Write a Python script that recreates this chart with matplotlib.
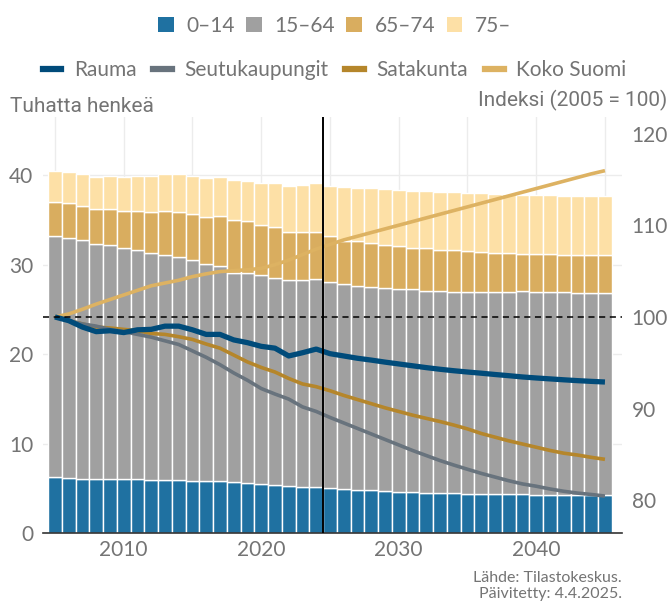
import matplotlib
matplotlib.use("Agg")
import matplotlib.pyplot as plt
import numpy as np
from matplotlib.patches import Patch
from matplotlib.lines import Line2D

years = list(range(2005, 2046))

age_0_14 = [6.26, 6.15, 6.03, 6.03, 6.03, 6.03, 6.03, 5.92, 5.92, 5.92,
            5.81, 5.81, 5.81, 5.70, 5.59, 5.47, 5.36, 5.25, 5.14, 5.10,
            5.03, 4.92, 4.80, 4.80, 4.69, 4.58, 4.58, 4.47, 4.47, 4.47,
            4.40, 4.36, 4.36, 4.36, 4.36, 4.30, 4.25, 4.25, 4.25, 4.25, 4.25]
age_15_64 = [26.92, 26.81, 26.71, 26.26, 26.15, 25.81, 25.59, 25.36, 25.14, 24.92,
             24.69, 24.25, 24.02, 23.35, 23.46, 23.36, 23.13, 23.02, 23.13, 23.28,
             23.01, 22.90, 22.83, 22.65, 22.68, 22.68, 22.68, 22.57, 22.57, 22.49,
             22.56, 22.60, 22.60, 22.60, 22.68, 22.66, 22.71, 22.71, 22.60, 22.60, 22.60]
age_65_74 = [3.80, 3.91, 3.80, 3.91, 4.02, 4.14, 4.36, 4.59, 4.92, 5.03,
             5.14, 5.25, 5.59, 5.92, 5.81, 5.58, 5.70, 5.36, 5.36, 5.25,
             5.14, 4.81, 5.00, 4.95, 4.81, 4.81, 4.58, 4.80, 4.58, 4.66,
             4.55, 4.44, 4.32, 4.32, 4.13, 4.21, 4.21, 4.10, 4.21, 4.21, 4.21]
age_75 = [3.47, 3.47, 3.56, 3.54, 3.69, 3.76, 3.91, 4.02, 4.12, 4.23,
          4.25, 4.32, 4.32, 4.47, 4.47, 4.66, 4.88, 5.14, 5.25, 5.44,
          5.59, 6.03, 5.92, 6.15, 6.26, 6.25, 6.37, 6.37, 6.48, 6.48,
          6.48, 6.59, 6.60, 6.60, 6.60, 6.60, 6.60, 6.59, 6.59, 6.59, 6.59]

rauma = [100.0, 99.6, 98.9, 98.4, 98.5, 98.3, 98.6, 98.65, 99.0, 99.0,
         98.6, 98.1, 98.1, 97.5, 97.2, 96.8, 96.6, 95.75, 96.1, 96.5,
         96.0, 95.75, 95.5, 95.3, 95.08, 94.88, 94.68, 94.48, 94.3, 94.14,
         94.0, 93.87, 93.73, 93.6, 93.46, 93.35, 93.25, 93.15, 93.06, 92.98, 92.91]
seutukaupungit = [100.0, 99.6, 99.24, 99.0, 98.65, 98.4, 98.1, 97.8, 97.4, 97.0,
                  96.3, 95.6, 94.8, 93.9, 93.1, 92.2, 91.6, 91.05, 90.2, 89.7,
                  89.05, 88.45, 87.85, 87.25, 86.65, 86.05, 85.45, 84.9, 84.35, 83.86,
                  83.4, 82.95, 82.55, 82.15, 81.8, 81.55, 81.25, 81.0, 80.8, 80.65, 80.48]
satakunta = [100.0, 99.6, 99.24, 98.9, 98.8, 98.65, 98.5, 98.2, 98.1, 97.85,
             97.55, 97.05, 96.6, 95.85, 95.1, 94.5, 94.0, 93.3, 92.7, 92.4,
             91.96, 91.45, 91.0, 90.55, 90.1, 89.7, 89.3, 88.95, 88.6, 88.22,
             87.8, 87.3, 86.9, 86.5, 86.15, 85.8, 85.45, 85.15, 84.95, 84.7, 84.48]
koko_suomi = [100.0, 100.33, 100.84, 101.4, 101.9, 102.4, 102.9, 103.4, 103.7, 104.0,
              104.4, 104.7, 104.95, 105.05, 105.15, 105.3, 105.7, 106.2, 106.8, 107.4,
              107.9, 108.4, 108.8, 109.2, 109.6, 110.0, 110.4, 110.8, 111.2, 111.6,
              112.0, 112.4, 112.8, 113.2, 113.6, 114.0, 114.4, 114.8, 115.2, 115.6, 115.95]

bar_labels = ["0\u201314", "15\u201364", "65\u201374", "75\u2013"]
bar_colors = ["#1F71A1", "#A0A0A0", "#D9AD5F", "#FDE0A6"]
line_labels = ["Rauma", "Seutukaupungit", "Satakunta", "Koko Suomi"]
line_colors = ["#004B7A", "#68737D", "#B5862B", "#DDB262"]
line_widths = [3.8, 2.6, 2.6, 2.6]

TXT = "#747474"
FONT = "Lato"

fig = plt.figure(figsize=(6.69, 6.03), dpi=100)
ax = fig.add_axes([43/669, 1-533/603, 579/669, 416/603])
ax2 = ax.twinx()

x = np.array(years)
bottom = np.zeros(len(years))
for vals, col in zip([age_0_14, age_15_64, age_65_74, age_75], bar_colors):
    ax.bar(x, vals, width=1.0, bottom=bottom, color=col, edgecolor="white",
           linewidth=1.0, zorder=2)
    bottom = bottom + np.array(vals)

for vals, col, lw in zip([rauma, seutukaupungit, satakunta, koko_suomi][::-1],
                         line_colors[::-1], line_widths[::-1]):
    ax2.plot(x, vals, color=col, lw=lw, solid_capstyle="butt", zorder=3)

ax2.axhline(100, color="black", lw=1.1, ls=(0, (4, 3)), zorder=4)
ax2.axvline(2024.5, color="black", lw=1.4, zorder=5)

ax.set_xlim(2004.13, 2046.24)
ax.set_ylim(0, 46.5)
ax2.set_ylim(76.45, 121.8)

ax.set_yticks([0, 10, 20, 30, 40])
ax2.set_yticks([80, 90, 100, 110, 120])
ax.set_xticks([2010, 2020, 2030, 2040])
ax.set_xticks(list(range(2005, 2046, 5)), minor=True)

ax.grid(True, which="both", axis="x", color="#ececec", lw=1.0, zorder=0)
ax.grid(True, which="major", axis="y", color="#ececec", lw=1.0, zorder=0)
ax.set_axisbelow(True)

for a in (ax, ax2):
    for s in a.spines.values():
        s.set_visible(False)
ax.spines["bottom"].set_visible(True)
ax.spines["bottom"].set_color("#333333")
ax.spines["bottom"].set_linewidth(1.2)

ax.tick_params(axis="x", which="both", length=0, pad=5, labelsize=15, labelcolor=TXT)
ax.tick_params(axis="y", length=0, pad=7, labelsize=15, labelcolor=TXT)
ax2.tick_params(axis="y", length=0, pad=7, labelsize=15, labelcolor=TXT)
for lab in ax.get_xticklabels() + ax.get_yticklabels() + ax2.get_yticklabels():
    lab.set_fontfamily(FONT)

fig.text(10/669, 1-107/603, "Tuhatta henkeä", fontsize=15, color=TXT,
         family="Roboto", ha="left", va="center")
fig.text(667/669, 1-100/603, "Indeksi (2005 = 100)", fontsize=15, color=TXT,
         family="Roboto", ha="right", va="center")
fig.text(622/669, 1-578/603, "Lähde: Tilastokeskus.", fontsize=11.5, color=TXT,
         family=FONT, ha="right", va="center")
fig.text(622/669, 1-594/603, "Päivitetty: 4.4.2025.", fontsize=11.5, color=TXT,
         family=FONT, ha="right", va="center")

h1 = [Patch(facecolor=c, edgecolor="none") for c in bar_colors]
leg1 = fig.legend(h1, bar_labels, loc="center", bbox_to_anchor=(0.5, 1-26/603),
                  ncol=4, frameon=False, handlelength=0.75, handleheight=0.75,
                  handletextpad=0.6, columnspacing=0.55,
                  prop={"family": FONT, "size": 15})
for t in leg1.get_texts():
    t.set_color(TXT)

h2 = [Line2D([0], [0], color=c, lw=4.5) for c in line_colors]
leg2 = fig.legend(h2, line_labels, loc="center", bbox_to_anchor=(0.5, 1-70/603),
                  ncol=4, frameon=False, handlelength=0.9,
                  handletextpad=0.6, columnspacing=0.8,
                  prop={"family": FONT, "size": 15})
for t in leg2.get_texts():
    t.set_color(TXT)

fig.savefig("out.png", dpi=100)
